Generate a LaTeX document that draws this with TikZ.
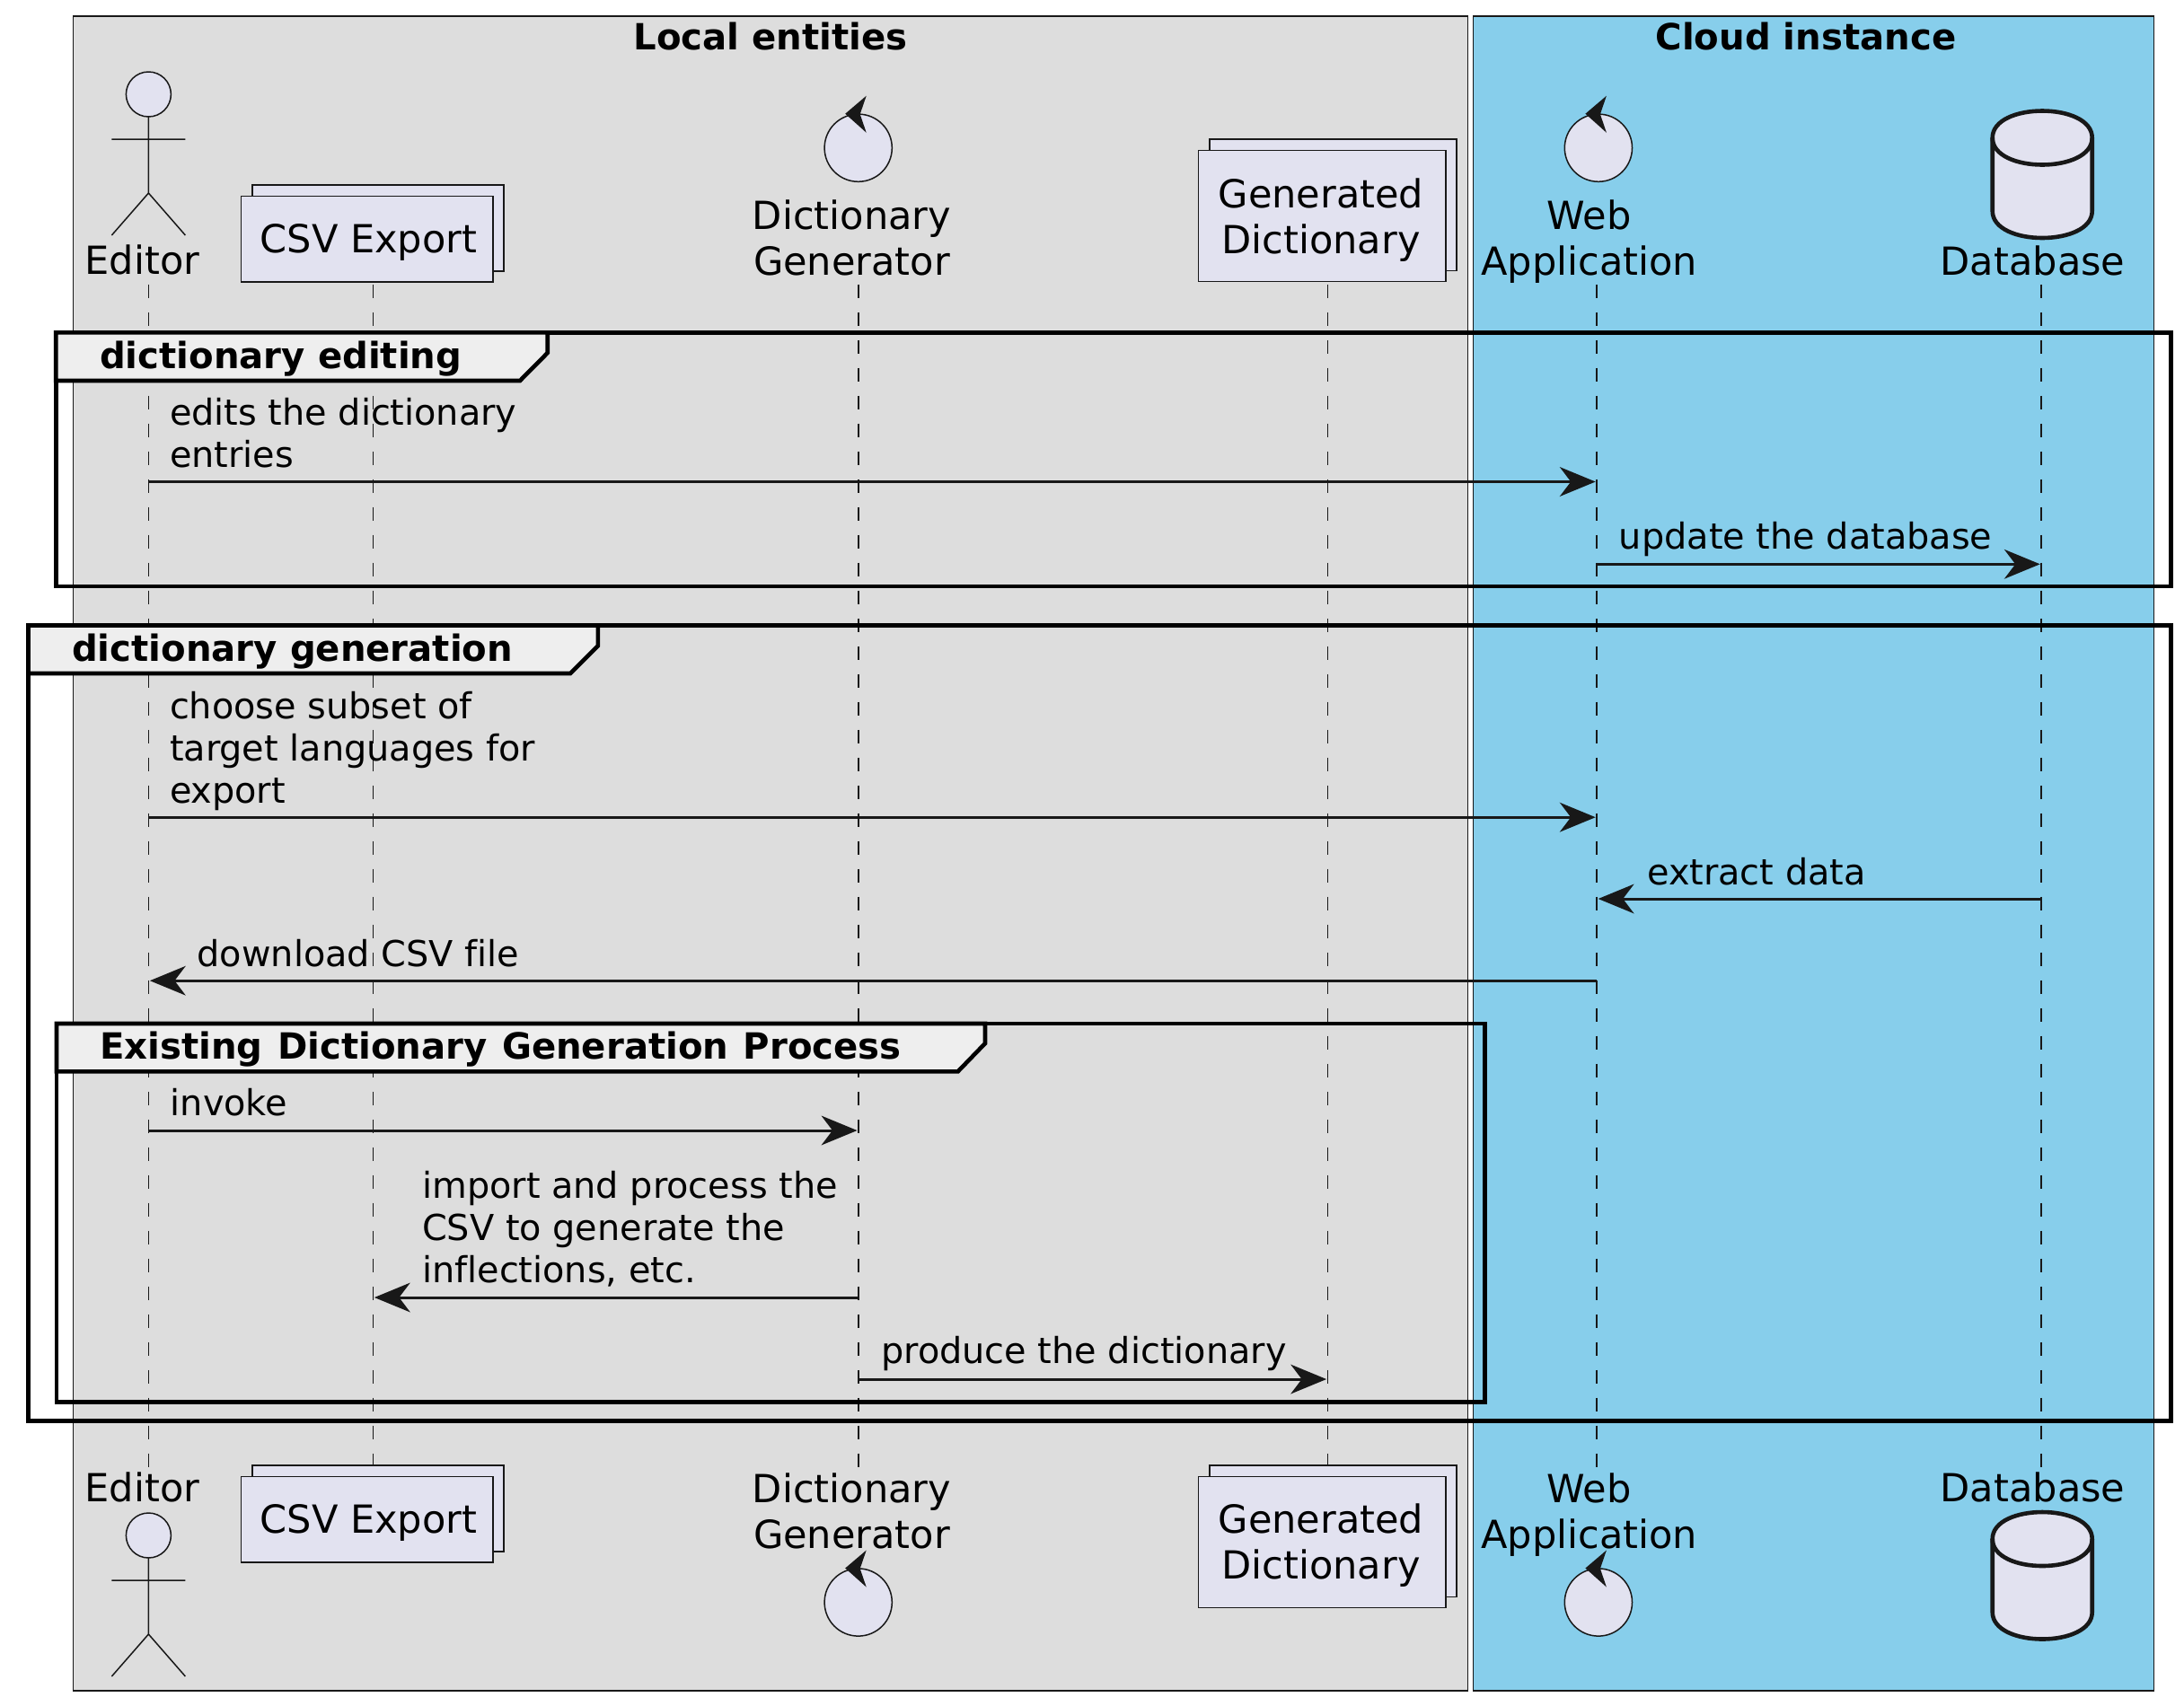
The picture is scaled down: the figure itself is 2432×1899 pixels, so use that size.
\documentclass[tikz,border=0pt]{standalone}
\usepackage{fontspec}
\setmainfont{DejaVu Sans}[Ligatures=NoCommon]
\usetikzlibrary{arrows.meta}
\definecolor{ink}{HTML}{181818}
\definecolor{partfill}{HTML}{E2E2F0}
\definecolor{localbg}{HTML}{DDDDDD}
\definecolor{cloudbg}{HTML}{87CEEB}
\definecolor{tabfill}{HTML}{EEEEEE}
\tikzset{
  boxarea/.style={draw=ink,line width=1.5pt},
  boxtitle/.style={inner sep=0pt,anchor=base,font=\fontsize{40.2}{47}\selectfont\bfseries},
  parttext/.style={inner sep=0pt,anchor=base,align=center,font=\fontsize{43.1}{50.6}\selectfont},
  msgtext/.style={inner sep=0pt,anchor=base west,align=left,font=\fontsize{39.8}{47.2}\selectfont},
  grouptext/.style={inner sep=0pt,anchor=base west,font=\fontsize{40.2}{47}\selectfont\bfseries},
  lifeline/.style={draw=ink,line width=1.5pt,dash pattern=on 15.5pt off 15.5pt},
  msg/.style={draw=ink,line width=3pt,shorten >=1.5pt,
    -{Stealth[length=40pt,width=33pt,inset=12.5pt,line width=0pt,fill=ink]}},
  framebox/.style={draw=black,line width=4.6pt,miter limit=10},
  tabshape/.style={draw=black,line width=4.6pt,fill=tabfill},
  symbolline/.style={draw=ink,line width=1.5pt,fill=partfill},
  actoricon/.pic={
    \path[symbolline] (0,25) ellipse [x radius=25pt,y radius=25pt];
    \draw[ink,line width=1.5pt] (0,50) -- (0,135) (-41,75) -- (41,75)
      (-41,182) -- (0,135) -- (41,182);
  },
  controlicon/.pic={
    \path[symbolline] (0,0) ellipse [x radius=37.6pt,y radius=37.6pt];
    \fill[ink] (-14.5,-38) -- (9,-58) -- (2,-37.5) -- (9,-17) -- cycle;
  },
  dbicon/.pic={
    \path[draw=ink,line width=4.6pt,fill=partfill]
      (-55.5,30) .. controls (-55.5,-10) and (55.5,-10) .. (55.5,30)
      -- (55.5,111.5) .. controls (55.5,151.5) and (-55.5,151.5) .. (-55.5,111.5) -- cycle;
    \draw[ink,line width=4.6pt]
      (-55.5,30) .. controls (-55.5,70) and (55.5,70) .. (55.5,30);
  },
  stackicon/.pic={
    \path[symbolline] (0,0) rectangle (\stackw+12,\stackh);
    \path[symbolline] (-12.5,12.5) rectangle (\stackw,\stackh+12);
  },
}
\newcommand{\stackw}{0}
\newcommand{\stackh}{0}
\begin{document}
\begin{tikzpicture}[x=1pt,y=-1pt]
\useasboundingbox (0,0) rectangle (2432,1899);

% swimlane boxes
\path[boxarea,fill=localbg] (81.6,18) rectangle (1634.5,1883);
\path[boxarea,fill=cloudbg] (1640.3,18) rectangle (2398.7,1883);
\node[boxtitle] (localtitle) at (858,55.4) {Local entities};
\node[boxtitle] (cloudtitle) at (2011,55.4) {Cloud instance};

% lifeline anchors
\coordinate (ed) at (165.4,316.5);
\coordinate (csv) at (415.4,316.5);
\coordinate (gen) at (956,316.5);
\coordinate (gdict) at (1478.6,316.5);
\coordinate (web) at (1778.2,316.5);
\coordinate (db) at (2273.2,316.5);
\coordinate (lifeend) at (0,1637);

\foreach \p in {ed,csv,gen,gdict,web,db}{
  \draw[lifeline] (\p) -- (\p |- lifeend);
}

% frames
\draw[framebox] (62.2,370.4) rectangle (2417.5,653);
\draw[framebox] (31.6,696.6) rectangle (2417.5,1582.3);
\draw[framebox] (63,1140) rectangle (1653.7,1561.3);
\path[tabshape] (62.2,370.4) -- (609.7,370.4) -- (609.7,393) -- (579,424) -- (62.2,424) -- cycle;
\path[tabshape] (31.6,696.6) -- (665.8,696.6) -- (665.8,719.3) -- (635,750) -- (31.6,750) -- cycle;
\path[tabshape] (63,1140) -- (1097,1140) -- (1097,1162) -- (1066.7,1193.3) -- (63,1193.3) -- cycle;
\node[grouptext] (gA) at (111,410.7) {dictionary editing};
\node[grouptext] (gB) at (80,736.7) {dictionary generation};
\node[grouptext] (gC) at (111,1179) {\spaceskip=16.5pt\relax Existing Dictionary Generation Process};

% top participants
\pic at (165.4,80) {actoricon};
\node[parttext] (edtop) at (158.5,305.5) {Editor};
\renewcommand{\stackw}{268}\renewcommand{\stackh}{96}
\pic at (281,206) {stackicon};
\node[parttext] (csvtop) at (410.5,281) {CSV Export};
\pic at (955.7,164.7) {controlicon};
\node[parttext] (gentop) at (948.5,306) {Dictionary\\Generator};
\renewcommand{\stackw}{263}\renewcommand{\stackh}{146.5}
\pic at (1347,155) {stackicon};
\node[parttext] (gdtop) at (1471,282) {Generated\\Dictionary};
\pic at (1779.9,164.7) {controlicon};
\node[parttext] (webtop) at (1769.6,306) {Web\\Application};
\pic at (2274.2,123.5) {dbicon};
\node[parttext] (dbtop) at (2263.6,306) {Database};

% bottom participants
\pic at (165.4,1685) {actoricon};
\node[parttext] (edbot) at (158.5,1672.7) {Editor};
\renewcommand{\stackw}{268}\renewcommand{\stackh}{96}
\pic at (281,1632) {stackicon};
\node[parttext] (csvbot) at (410.5,1707) {CSV Export};
\pic at (955.7,1784.5) {controlicon};
\node[parttext] (genbot) at (948.5,1724) {Dictionary\\Generator};
\renewcommand{\stackw}{263}\renewcommand{\stackh}{146.5}
\pic at (1347,1632) {stackicon};
\node[parttext] (gdbot) at (1471,1758) {Generated\\Dictionary};
\pic at (1779.9,1784.5) {controlicon};
\node[parttext] (webbot) at (1769.6,1724) {Web\\Application};
\pic at (2274.2,1684) {dbicon};
\node[parttext] (dbbot) at (2263.6,1672.7) {Database};

% message rows
\coordinate (m1) at (0,536.5);
\coordinate (m2) at (0,628.3);
\coordinate (m3) at (0,910.2);
\coordinate (m4) at (0,1001);
\coordinate (m5) at (0,1092.2);
\coordinate (m6) at (0,1259);
\coordinate (m7) at (0,1445);
\coordinate (m8) at (0,1536);

\draw[msg] (ed |- m1) -- (web |- m1);
\draw[msg] (web |- m2) -- (db |- m2);
\draw[msg] (ed |- m3) -- (web |- m3);
\draw[msg] (db |- m4) -- (web |- m4);
\draw[msg] (web |- m5) -- (ed |- m5);
\draw[msg] (ed |- m6) -- (gen |- m6);
\draw[msg] (gen |- m7) -- (csv |- m7);
\draw[msg] (gen |- m8) -- (gdict |- m8);

\node[msgtext] (t1) at (188.8,520.3) {edits the dictionary\\entries};
\node[msgtext] (t2) at (1802.7,611) {update the database};
\node[msgtext] (t3) at (188.8,894.5) {choose subset of\\target languages for\\export};
\node[msgtext] (t4) at (1834,985) {extract data};
\node[msgtext] (t5) at (219.4,1076) {download CSV file};
\node[msgtext] (t6) at (189.5,1242.7) {invoke};
\node[msgtext] (t7) at (470,1428.5) {import and process the\\CSV to generate the\\inflections, etc.};
\node[msgtext] (t8) at (981,1518.5) {produce the dictionary};
\end{tikzpicture}
\end{document}
